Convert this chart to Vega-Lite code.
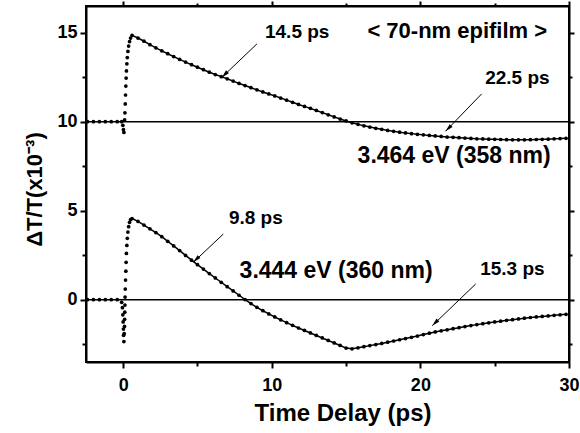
{
  "$schema": "https://vega.github.io/schema/vega-lite/v6.json",
  "width": 483,
  "height": 356,
  "autosize": {"type": "none"},
  "padding": {"left": 86, "top": 6, "right": 11, "bottom": 71},
  "background": "white",
  "config": {
    "view": {"stroke": "black", "strokeWidth": 2},
    "font": "Liberation Sans",
    "axis": {
      "grid": false,
      "domainColor": "black",
      "domainWidth": 2,
      "tickColor": "black",
      "tickWidth": 2,
      "labelColor": "black",
      "titleColor": "black",
      "labelFont": "Liberation Sans",
      "labelFontWeight": "bold",
      "labelFontSize": 18,
      "titleFont": "Liberation Sans",
      "titleFontWeight": "bold"
    }
  },
  "datasets": {
    "pts": [
      {"s": "a", "t": -2.4, "v": 10.0}, {"s": "a", "t": -2.0, "v": 10.0}, {"s": "a", "t": -1.6, "v": 10.0},
      {"s": "a", "t": -1.2, "v": 10.0}, {"s": "a", "t": -0.8, "v": 10.0}, {"s": "a", "t": -0.4, "v": 10.0},
      {"s": "a", "t": -0.1, "v": 10.0}, {"s": "a", "t": -0.02, "v": 9.8}, {"s": "a", "t": 0.02, "v": 9.55},
      {"s": "a", "t": 0.05, "v": 9.4}, {"s": "a", "t": 0.1, "v": 10.1}, {"s": "a", "t": 0.12, "v": 10.5},
      {"s": "a", "t": 0.14, "v": 11.0}, {"s": "a", "t": 0.16, "v": 11.5}, {"s": "a", "t": 0.18, "v": 12.0},
      {"s": "a", "t": 0.2, "v": 12.45}, {"s": "a", "t": 0.22, "v": 12.85}, {"s": "a", "t": 0.25, "v": 13.25},
      {"s": "a", "t": 0.28, "v": 13.6}, {"s": "a", "t": 0.32, "v": 13.95}, {"s": "a", "t": 0.37, "v": 14.25},
      {"s": "a", "t": 0.43, "v": 14.5}, {"s": "a", "t": 0.5, "v": 14.7},
      {"s": "a", "t": 0.6, "v": 14.85}, {"s": "a", "t": 1.0, "v": 14.7}, {"s": "a", "t": 1.4, "v": 14.52},
      {"s": "a", "t": 1.8, "v": 14.33}, {"s": "a", "t": 2.2, "v": 14.15}, {"s": "a", "t": 2.6, "v": 13.98},
      {"s": "a", "t": 3.0, "v": 13.82}, {"s": "a", "t": 3.4, "v": 13.66}, {"s": "a", "t": 3.8, "v": 13.5},
      {"s": "a", "t": 4.2, "v": 13.35}, {"s": "a", "t": 4.6, "v": 13.2}, {"s": "a", "t": 5.0, "v": 13.06},
      {"s": "a", "t": 5.4, "v": 12.92}, {"s": "a", "t": 5.8, "v": 12.78}, {"s": "a", "t": 6.2, "v": 12.65},
      {"s": "a", "t": 6.6, "v": 12.53}, {"s": "a", "t": 7.0, "v": 12.41}, {"s": "a", "t": 7.4, "v": 12.28},
      {"s": "a", "t": 7.8, "v": 12.15}, {"s": "a", "t": 8.2, "v": 12.03}, {"s": "a", "t": 8.6, "v": 11.91},
      {"s": "a", "t": 9.0, "v": 11.79}, {"s": "a", "t": 9.4, "v": 11.67}, {"s": "a", "t": 9.8, "v": 11.56},
      {"s": "a", "t": 10.2, "v": 11.45}, {"s": "a", "t": 10.6, "v": 11.33}, {"s": "a", "t": 11.0, "v": 11.21},
      {"s": "a", "t": 11.4, "v": 11.09}, {"s": "a", "t": 11.8, "v": 10.97}, {"s": "a", "t": 12.2, "v": 10.86},
      {"s": "a", "t": 12.6, "v": 10.75}, {"s": "a", "t": 13.0, "v": 10.63}, {"s": "a", "t": 13.4, "v": 10.51},
      {"s": "a", "t": 13.8, "v": 10.39}, {"s": "a", "t": 14.2, "v": 10.27}, {"s": "a", "t": 14.6, "v": 10.15},
      {"s": "a", "t": 15.0, "v": 10.04}, {"s": "a", "t": 15.4, "v": 9.94}, {"s": "a", "t": 15.8, "v": 9.85},
      {"s": "a", "t": 16.2, "v": 9.77}, {"s": "a", "t": 16.6, "v": 9.7}, {"s": "a", "t": 17.0, "v": 9.63},
      {"s": "a", "t": 17.4, "v": 9.57}, {"s": "a", "t": 17.8, "v": 9.51}, {"s": "a", "t": 18.2, "v": 9.46},
      {"s": "a", "t": 18.6, "v": 9.41}, {"s": "a", "t": 19.0, "v": 9.37}, {"s": "a", "t": 19.4, "v": 9.33},
      {"s": "a", "t": 19.8, "v": 9.29}, {"s": "a", "t": 20.2, "v": 9.26}, {"s": "a", "t": 20.6, "v": 9.23},
      {"s": "a", "t": 21.0, "v": 9.2}, {"s": "a", "t": 21.4, "v": 9.17}, {"s": "a", "t": 21.8, "v": 9.14},
      {"s": "a", "t": 22.2, "v": 9.12}, {"s": "a", "t": 22.6, "v": 9.1}, {"s": "a", "t": 23.0, "v": 9.08},
      {"s": "a", "t": 23.4, "v": 9.06}, {"s": "a", "t": 23.8, "v": 9.04}, {"s": "a", "t": 24.2, "v": 9.03},
      {"s": "a", "t": 24.6, "v": 9.02}, {"s": "a", "t": 25.0, "v": 9.01}, {"s": "a", "t": 25.4, "v": 9.0},
      {"s": "a", "t": 25.8, "v": 8.99}, {"s": "a", "t": 26.2, "v": 8.98}, {"s": "a", "t": 26.6, "v": 8.98},
      {"s": "a", "t": 27.0, "v": 8.98}, {"s": "a", "t": 27.4, "v": 8.99}, {"s": "a", "t": 27.8, "v": 9.0},
      {"s": "a", "t": 28.2, "v": 9.01}, {"s": "a", "t": 28.6, "v": 9.02}, {"s": "a", "t": 29.0, "v": 9.04},
      {"s": "a", "t": 29.4, "v": 9.05}, {"s": "a", "t": 29.8, "v": 9.07},
      {"s": "b", "t": -2.4, "v": 0.0}, {"s": "b", "t": -2.0, "v": 0.0}, {"s": "b", "t": -1.6, "v": 0.0},
      {"s": "b", "t": -1.2, "v": 0.0}, {"s": "b", "t": -0.8, "v": 0.0}, {"s": "b", "t": -0.4, "v": 0.0},
      {"s": "b", "t": -0.1, "v": -0.15}, {"s": "b", "t": -0.05, "v": -0.45}, {"s": "b", "t": -0.02, "v": -0.85},
      {"s": "b", "t": 0.0, "v": -1.25}, {"s": "b", "t": 0.02, "v": -1.65}, {"s": "b", "t": 0.03, "v": -2.0},
      {"s": "b", "t": 0.05, "v": -2.35}, {"s": "b", "t": 0.07, "v": -1.9}, {"s": "b", "t": 0.09, "v": -1.5},
      {"s": "b", "t": 0.1, "v": -1.1}, {"s": "b", "t": 0.11, "v": -0.7}, {"s": "b", "t": 0.12, "v": -0.3},
      {"s": "b", "t": 0.13, "v": 0.15}, {"s": "b", "t": 0.14, "v": 0.6}, {"s": "b", "t": 0.16, "v": 1.1},
      {"s": "b", "t": 0.18, "v": 1.6}, {"s": "b", "t": 0.2, "v": 2.1}, {"s": "b", "t": 0.22, "v": 2.6},
      {"s": "b", "t": 0.25, "v": 3.05}, {"s": "b", "t": 0.28, "v": 3.45}, {"s": "b", "t": 0.32, "v": 3.8},
      {"s": "b", "t": 0.37, "v": 4.1}, {"s": "b", "t": 0.43, "v": 4.35}, {"s": "b", "t": 0.5, "v": 4.5},
      {"s": "b", "t": 0.6, "v": 4.56}, {"s": "b", "t": 1.0, "v": 4.4}, {"s": "b", "t": 1.4, "v": 4.19},
      {"s": "b", "t": 1.8, "v": 3.98}, {"s": "b", "t": 2.2, "v": 3.77}, {"s": "b", "t": 2.6, "v": 3.54},
      {"s": "b", "t": 3.0, "v": 3.28}, {"s": "b", "t": 3.4, "v": 3.02}, {"s": "b", "t": 3.8, "v": 2.76},
      {"s": "b", "t": 4.2, "v": 2.49}, {"s": "b", "t": 4.6, "v": 2.22}, {"s": "b", "t": 5.0, "v": 1.97},
      {"s": "b", "t": 5.4, "v": 1.72}, {"s": "b", "t": 5.8, "v": 1.47}, {"s": "b", "t": 6.2, "v": 1.22},
      {"s": "b", "t": 6.6, "v": 0.98}, {"s": "b", "t": 7.0, "v": 0.73}, {"s": "b", "t": 7.4, "v": 0.49},
      {"s": "b", "t": 7.8, "v": 0.25}, {"s": "b", "t": 8.2, "v": 0.01}, {"s": "b", "t": 8.6, "v": -0.22},
      {"s": "b", "t": 9.0, "v": -0.43}, {"s": "b", "t": 9.4, "v": -0.62}, {"s": "b", "t": 9.8, "v": -0.8},
      {"s": "b", "t": 10.2, "v": -0.97}, {"s": "b", "t": 10.6, "v": -1.13}, {"s": "b", "t": 11.0, "v": -1.29},
      {"s": "b", "t": 11.4, "v": -1.44}, {"s": "b", "t": 11.8, "v": -1.59}, {"s": "b", "t": 12.2, "v": -1.73},
      {"s": "b", "t": 12.6, "v": -1.87}, {"s": "b", "t": 13.0, "v": -2.01}, {"s": "b", "t": 13.4, "v": -2.15},
      {"s": "b", "t": 13.8, "v": -2.29}, {"s": "b", "t": 14.2, "v": -2.43}, {"s": "b", "t": 14.6, "v": -2.57},
      {"s": "b", "t": 15.0, "v": -2.72}, {"s": "b", "t": 15.4, "v": -2.76}, {"s": "b", "t": 15.8, "v": -2.7},
      {"s": "b", "t": 16.2, "v": -2.64}, {"s": "b", "t": 16.6, "v": -2.58}, {"s": "b", "t": 17.0, "v": -2.52},
      {"s": "b", "t": 17.4, "v": -2.46}, {"s": "b", "t": 17.8, "v": -2.39}, {"s": "b", "t": 18.2, "v": -2.32},
      {"s": "b", "t": 18.6, "v": -2.25}, {"s": "b", "t": 19.0, "v": -2.18}, {"s": "b", "t": 19.4, "v": -2.11},
      {"s": "b", "t": 19.8, "v": -2.04}, {"s": "b", "t": 20.2, "v": -1.96}, {"s": "b", "t": 20.6, "v": -1.88},
      {"s": "b", "t": 21.0, "v": -1.81}, {"s": "b", "t": 21.4, "v": -1.75}, {"s": "b", "t": 21.8, "v": -1.69},
      {"s": "b", "t": 22.2, "v": -1.63}, {"s": "b", "t": 22.6, "v": -1.57}, {"s": "b", "t": 23.0, "v": -1.51},
      {"s": "b", "t": 23.4, "v": -1.45}, {"s": "b", "t": 23.8, "v": -1.4}, {"s": "b", "t": 24.2, "v": -1.35},
      {"s": "b", "t": 24.6, "v": -1.3}, {"s": "b", "t": 25.0, "v": -1.25}, {"s": "b", "t": 25.4, "v": -1.21},
      {"s": "b", "t": 25.8, "v": -1.16}, {"s": "b", "t": 26.2, "v": -1.12}, {"s": "b", "t": 26.6, "v": -1.08},
      {"s": "b", "t": 27.0, "v": -1.04}, {"s": "b", "t": 27.4, "v": -1.0}, {"s": "b", "t": 27.8, "v": -0.97},
      {"s": "b", "t": 28.2, "v": -0.94}, {"s": "b", "t": 28.6, "v": -0.91}, {"s": "b", "t": 29.0, "v": -0.88},
      {"s": "b", "t": 29.4, "v": -0.85}, {"s": "b", "t": 29.8, "v": -0.82}
    ],
    "hlines": [{"v": 0}, {"v": 10}],
    "arrows": [
      {"t": 9.0, "v": 14.37, "t2": 6.64, "v2": 12.49},
      {"t": 24.12, "v": 11.56, "t2": 21.69, "v2": 9.46},
      {"t": 6.74, "v": 3.69, "t2": 4.72, "v2": 2.1},
      {"t": 23.72, "v": 0.88, "t2": 20.8, "v2": -1.46}
    ],
    "labSmall": [
      {"t": 11.71, "v": 14.7, "txt": "14.5 ps"},
      {"t": 26.53, "v": 12.12, "txt": "22.5 ps"},
      {"t": 8.93, "v": 4.25, "txt": "9.8 ps"},
      {"t": 26.19, "v": 1.4, "txt": "15.3 ps"}
    ],
    "labTitle": [
      {"t": 22.48, "v": 14.7, "txt": "< 70-nm epifilm >"}
    ],
    "labBig": [
      {"t": 22.27, "v": 7.66, "txt": "3.464 eV (358 nm)"},
      {"t": 14.33, "v": 1.24, "txt": "3.444 eV (360 nm)"}
    ]
  },
  "resolve": {"axis": {"x": "independent", "y": "independent"}},
  "layer": [
    {
      "data": {"name": "hlines"},
      "mark": {"type": "rule", "color": "black", "strokeWidth": 1.5},
      "encoding": {
        "y": {"field": "v", "type": "quantitative", "scale": {"domain": [-3.5, 16.5], "nice": false, "zero": false}, "axis": null}
      }
    },
    {
      "data": {"name": "pts"},
      "transform": [{"filter": "datum.t >= 0.55"}],
      "mark": {"type": "line", "color": "black", "strokeWidth": 1.5},
      "encoding": {
        "x": {"field": "t", "type": "quantitative", "scale": {"domain": [-2.5, 30], "nice": false, "zero": false}, "axis": null},
        "y": {"field": "v", "type": "quantitative", "scale": {"domain": [-3.5, 16.5], "nice": false, "zero": false}, "axis": null},
        "detail": {"field": "s"}
      }
    },
    {
      "data": {"name": "pts"},
      "mark": {"type": "circle", "color": "black", "size": 14, "opacity": 1},
      "encoding": {
        "x": {
          "field": "t", "type": "quantitative",
          "scale": {"domain": [-2.5, 30], "nice": false, "zero": false},
          "axis": {
            "orient": "bottom",
            "values": [0, 5, 10, 15, 20, 25, 30],
            "labelExpr": "datum.value % 10 === 0 ? datum.label : ''",
            "tickSize": {"condition": {"test": "datum.value % 10 === 0", "value": 6}, "value": 4},
            "labelPadding": 8,
            "labelFlush": false,
            "title": "Time Delay (ps)",
            "titleFontSize": 24,
            "titleX": 256.5,
            "titleY": 58,
            "titleAlign": "center",
            "titleBaseline": "alphabetic"
          }
        },
        "y": {
          "field": "v", "type": "quantitative",
          "scale": {"domain": [-3.5, 16.5], "nice": false, "zero": false},
          "axis": {
            "orient": "left",
            "values": [-2.5, 0, 2.5, 5, 7.5, 10, 12.5, 15],
            "labelExpr": "datum.value % 5 === 0 ? datum.label : ''",
            "tickSize": {"condition": {"test": "datum.value % 5 === 0", "value": 6}, "value": 4},
            "labelPadding": 3,
            "labelFlush": false,
            "title": "ΔT/T(x10⁻³)",
            "titleFontSize": 22,
            "titleAngle": -90,
            "titleX": -45,
            "titleY": 183,
            "titleAlign": "center",
            "titleBaseline": "alphabetic"
          }
        }
      }
    },
    {
      "data": {"name": "arrows"},
      "mark": {"type": "rule", "color": "black", "strokeWidth": 1},
      "encoding": {
        "x": {
          "field": "t", "type": "quantitative",
          "scale": {"domain": [-2.5, 30], "nice": false, "zero": false},
          "axis": {
            "orient": "top",
            "values": [0, 5, 10, 15, 20, 25, 30],
            "labels": false,
            "title": null,
            "tickSize": {"condition": {"test": "datum.value % 10 === 0", "value": 5}, "value": 3}
          }
        },
        "y": {
          "field": "v", "type": "quantitative",
          "scale": {"domain": [-3.5, 16.5], "nice": false, "zero": false},
          "axis": {
            "orient": "right",
            "values": [-2.5, 0, 2.5, 5, 7.5, 10, 12.5, 15],
            "labels": false,
            "title": null,
            "tickSize": {"condition": {"test": "datum.value % 5 === 0", "value": 5}, "value": 3}
          }
        },
        "x2": {"field": "t2"},
        "y2": {"field": "v2"}
      }
    },
    {
      "data": {"name": "arrows"},
      "mark": {"type": "point", "shape": "M0,0L0.5,2L-0.5,2Z", "filled": true, "color": "black", "size": 64, "angle": 225, "opacity": 1},
      "encoding": {
        "x": {"field": "t2", "type": "quantitative", "scale": {"domain": [-2.5, 30], "nice": false, "zero": false}, "axis": null},
        "y": {"field": "v2", "type": "quantitative", "scale": {"domain": [-3.5, 16.5], "nice": false, "zero": false}, "axis": null}
      }
    },
    {
      "data": {"name": "labSmall"},
      "mark": {"type": "text", "font": "Liberation Sans", "fontWeight": "bold", "fontSize": 19, "align": "center", "baseline": "alphabetic", "color": "black"},
      "encoding": {
        "x": {"field": "t", "type": "quantitative", "scale": {"domain": [-2.5, 30], "nice": false, "zero": false}, "axis": null},
        "y": {"field": "v", "type": "quantitative", "scale": {"domain": [-3.5, 16.5], "nice": false, "zero": false}, "axis": null},
        "text": {"field": "txt"}
      }
    },
    {
      "data": {"name": "labTitle"},
      "mark": {"type": "text", "font": "Liberation Sans", "fontWeight": "bold", "fontSize": 22, "align": "center", "baseline": "alphabetic", "color": "black"},
      "encoding": {
        "x": {"field": "t", "type": "quantitative", "scale": {"domain": [-2.5, 30], "nice": false, "zero": false}, "axis": null},
        "y": {"field": "v", "type": "quantitative", "scale": {"domain": [-3.5, 16.5], "nice": false, "zero": false}, "axis": null},
        "text": {"field": "txt"}
      }
    },
    {
      "data": {"name": "labBig"},
      "mark": {"type": "text", "font": "Liberation Sans", "fontWeight": "bold", "fontSize": 23, "align": "center", "baseline": "alphabetic", "color": "black"},
      "encoding": {
        "x": {"field": "t", "type": "quantitative", "scale": {"domain": [-2.5, 30], "nice": false, "zero": false}, "axis": null},
        "y": {"field": "v", "type": "quantitative", "scale": {"domain": [-3.5, 16.5], "nice": false, "zero": false}, "axis": null},
        "text": {"field": "txt"}
      }
    }
  ]
}
